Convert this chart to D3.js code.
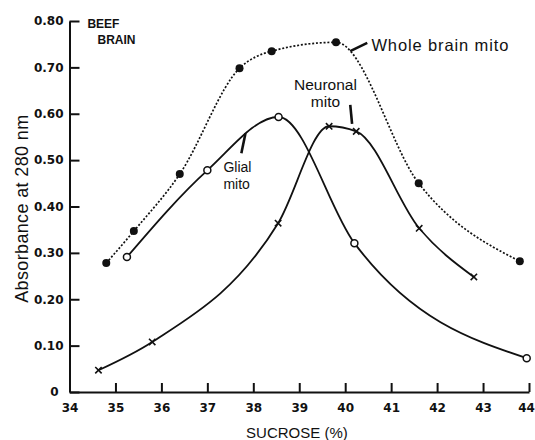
<!DOCTYPE html>
<html>
<head>
<meta charset="utf-8">
<script src="https://cdn.jsdelivr.net/npm/d3@7"></script>
<style>
  body { margin: 0; background: #fff; }
  svg { display: block; }
</style>
</head>
<body>
<svg id="chart"></svg>
<script>
// 1) Data ----------------------------------------------------------
const sucroseTicks = [34, 35, 36, 37, 38, 39, 40, 41, 42, 43, 44];
const absTicks = [0, 0.1, 0.2, 0.3, 0.4, 0.5, 0.6, 0.7, 0.8];

const wholeX = [34.8, 35.4, 36.4, 37.7, 38.4, 39.8, 41.6, 43.8];
const wholeY = [0.278, 0.347, 0.470, 0.698, 0.735, 0.754, 0.450, 0.282];

const glialX = [35.25, 37.0, 38.55, 40.2, 43.95];
const glialY = [0.291, 0.478, 0.593, 0.321, 0.073];

const neuronX = [34.63, 35.8, 38.54, 39.65, 40.24, 41.61, 42.8];
const neuronY = [0.047, 0.108, 0.364, 0.573, 0.562, 0.353, 0.248];

// 2) Dimensions ----------------------------------------------------
const width = 535;
const height = 440;
const ink = '#111';

const svg = d3.select('#chart')
  .attr('width', width)
  .attr('height', height);

const x = d3.scaleLinear().domain([34, 44]).range([69.5, 529]);
const y = d3.scaleLinear().domain([0, 0.8]).range([392, 21]);

const zip = (xs, ys) => xs.map((v, i) => [v, ys[i]]);

// 3) Axes ----------------------------------------------------------
const xAxis = svg.append('g')
  .attr('transform', `translate(0,${y(0)})`)
  .call(d3.axisBottom(x)
    .tickValues(sucroseTicks)
    .tickFormat(d3.format('d'))
    .tickSizeInner(-9)
    .tickSizeOuter(0)
    .tickPadding(11));

const yAxis = svg.append('g')
  .attr('transform', `translate(${x(34)},0)`)
  .call(d3.axisLeft(y)
    .tickValues(absTicks)
    .tickFormat(d => d === 0 ? '0' : d3.format('.2f')(d))
    .tickSizeInner(-10)
    .tickSizeOuter(0)
    .tickPadding(6));

[xAxis, yAxis].forEach(g => {
  g.selectAll('path, line').attr('stroke', ink).attr('stroke-width', 2);
  g.selectAll('text')
    .attr('fill', ink)
    .style('font-family', '"DejaVu Sans", sans-serif')
    .style('font-weight', 'bold')
    .style('font-size', '12px');
});
yAxis.selectAll('.tick').filter(d => d === 0).select('text').attr('x', -11);
// keep the last label inside the frame
xAxis.selectAll('.tick').filter(d => d === 44).select('text').attr('dx', -3);

// axis titles
svg.append('text')
  .attr('x', x(38.95))
  .attr('y', 438)
  .attr('text-anchor', 'middle')
  .attr('fill', ink)
  .style('font-family', '"Liberation Sans", Arial, sans-serif')
  .style('font-size', '15px')
  .text('SUCROSE (%)');

svg.append('text')
  .attr('transform', `translate(28,${y(0.395)}) rotate(-90)`)
  .attr('text-anchor', 'middle')
  .attr('fill', ink)
  .attr('textLength', 188)
  .style('font-family', '"Liberation Sans", Arial, sans-serif')
  .style('font-size', '18px')
  .text('Absorbance at 280 nm');

// 4) Curves --------------------------------------------------------
const line = d3.line()
  .x(d => x(d[0]))
  .y(d => y(d[1]))
  .curve(d3.curveMonotoneX);

svg.append('path')
  .datum(zip(wholeX, wholeY))
  .attr('d', line)
  .attr('fill', 'none')
  .attr('stroke', ink)
  .attr('stroke-width', 1.7)
  .attr('stroke-dasharray', '2,1.8');

svg.append('path')
  .datum(zip(glialX, glialY))
  .attr('d', line)
  .attr('fill', 'none')
  .attr('stroke', ink)
  .attr('stroke-width', 1.8);

svg.append('path')
  .datum(zip(neuronX, neuronY))
  .attr('d', line)
  .attr('fill', 'none')
  .attr('stroke', ink)
  .attr('stroke-width', 1.8);

// 5) Markers -------------------------------------------------------
svg.append('g').selectAll('circle')
  .data(zip(wholeX, wholeY))
  .enter().append('circle')
  .attr('cx', d => x(d[0]))
  .attr('cy', d => y(d[1]))
  .attr('r', 4)
  .attr('fill', ink);

svg.append('g').selectAll('circle')
  .data(zip(glialX, glialY))
  .enter().append('circle')
  .attr('cx', d => x(d[0]))
  .attr('cy', d => y(d[1]))
  .attr('r', 3.5)
  .attr('fill', '#fff')
  .attr('stroke', ink)
  .attr('stroke-width', 1.5);

svg.append('g').selectAll('path')
  .data(zip(neuronX, neuronY))
  .enter().append('path')
  .attr('d', d => {
    const cx = x(d[0]), cy = y(d[1]), s = 3.2;
    return `M${cx - s},${cy - s}L${cx + s},${cy + s}M${cx + s},${cy - s}L${cx - s},${cy + s}`;
  })
  .attr('stroke', ink)
  .attr('stroke-width', 1.6);

// 6) Annotations ---------------------------------------------------
const font = '"Liberation Sans", Arial, sans-serif';

function label(vx, vy, txt, opts = {}) {
  return svg.append('text')
    .attr('x', x(vx))
    .attr('y', y(vy))
    .attr('text-anchor', opts.anchor || 'start')
    .attr('fill', ink)
    .style('font-family', opts.family || font)
    .style('font-weight', opts.weight || 'normal')
    .style('font-size', (opts.size || 15) + 'px')
    .text(txt);
}

function leader(x1, y1, x2, y2, w) {
  svg.append('line')
    .attr('x1', x(x1)).attr('y1', y(y1))
    .attr('x2', x(x2)).attr('y2', y(y2))
    .attr('stroke', ink)
    .attr('stroke-width', w || 2.4);
}

label(34.39, 0.784, 'BEEF', { weight: 'bold', size: 12 });
label(34.61, 0.750, 'BRAIN', { weight: 'bold', size: 12 });

label(40.57, 0.736, 'Whole brain  mito', { size: 16.5 }).attr('textLength', 137);
leader(40.11, 0.735, 40.48, 0.753, 2.6);

label(39.57, 0.651, 'Neuronal', { anchor: 'middle', size: 15.5 });
label(39.57, 0.614, 'mito', { anchor: 'middle', size: 15.5 });
leader(40.11, 0.619, 40.15, 0.578, 2.6);

label(37.35, 0.474, 'Glial', { size: 14 });
label(37.35, 0.437, 'mito', { size: 14 });
leader(37.83, 0.558, 37.74, 0.515, 2.6);
</script>
</body>
</html>
